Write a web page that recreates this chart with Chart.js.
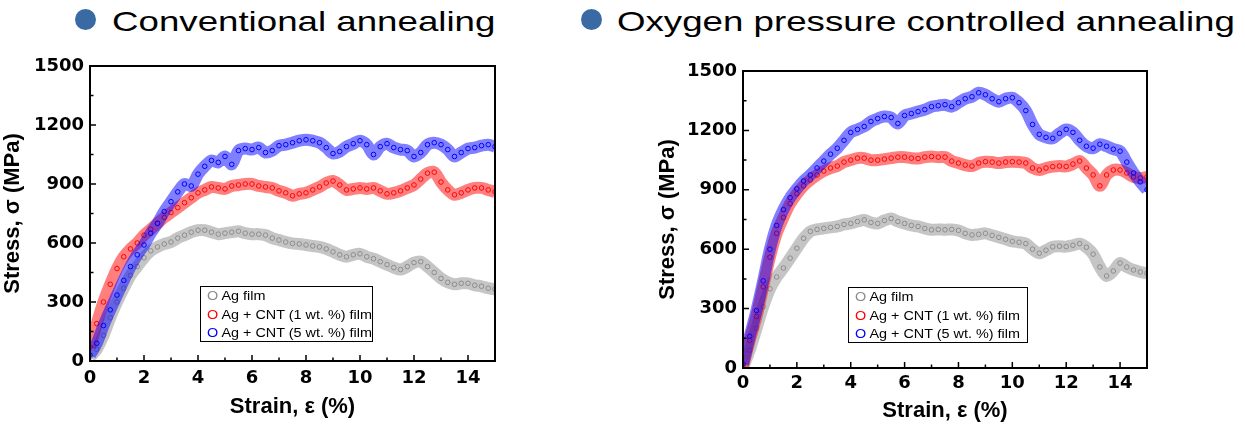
<!DOCTYPE html>
<html>
<head>
<meta charset="utf-8">
<script src="https://cdn.jsdelivr.net/npm/chart.js@4.4.0/dist/chart.umd.min.js"></script>
<style>
  body { margin: 0; background: #fff; }
  #page { position: relative; width: 1245px; height: 424px; overflow: hidden; font-family: Arial, "Liberation Sans", sans-serif; }
  .wrap { position: absolute; top: 0; }
  .dot { position: absolute; width: 21px; height: 21px; border-radius: 50%; background: #3a6aa3; }
  .ttl { position: absolute; top: 8px; font-size: 28px; line-height: 28px; white-space: nowrap; transform: scaleX(1.31); transform-origin: 0 0; color: #000; }
  .lgd { position: absolute; border: 1px solid #000; background: #fff; box-sizing: border-box; font-size: 12px; line-height: 18.5px; padding: 0 0 0 6px; }
  .lgd div { white-space: nowrap; transform: scaleX(1.2); transform-origin: 0 50%; }
</style>
</head>
<body>
<div id="page">
  <div class="dot" style="left:75px; top:9px"></div>
  <div class="ttl" style="left:112px">Conventional annealing</div>
  <div class="dot" style="left:581px; top:9px"></div>
  <div class="ttl" style="left:617px">Oxygen pressure controlled annealing</div>

  <div class="wrap" style="left:0; width:530px; height:424px"><canvas id="conv" width="530" height="424"></canvas></div>
  <div class="wrap" style="left:630px; width:615px; height:424px"><canvas id="oxy" width="615" height="424"></canvas></div>

  <div class="lgd" id="lgdConv" style="left:200px; top:286px; width:173px; height:56px"></div>
  <div class="lgd" id="lgdOxy" style="left:848px; top:287px; width:180px; height:56px"></div>
</div>
<script>
// strain (%) sampling grid
const strain = [0,0.25,0.5,0.75,1,1.25,1.5,1.75,2,2.25,2.5,2.75,3,3.25,3.5,3.75,4,4.25,4.5,4.75,
  5,5.25,5.5,5.75,6,6.25,6.5,6.75,7,7.25,7.5,7.75,8,8.25,8.5,8.75,9,9.25,9.5,9.75,
  10,10.25,10.5,10.75,11,11.25,11.5,11.75,12,12.25,12.5,12.75,13,13.25,13.5,13.75,14,14.25,14.5,14.75,15];

// conventional annealing, stress (MPa)
const convAg = [20,60,130,220,300,370,435,480,525,560,580,595,605,625,640,655,665,665,655,645,
  650,655,660,650,645,645,640,625,615,605,598,595,590,585,580,570,555,540,530,540,
  545,530,520,505,490,475,465,480,500,505,480,450,420,400,390,395,395,385,380,370,365];
const convCnt1 = [70,190,300,390,470,530,570,600,640,670,700,730,755,780,805,830,855,870,885,880,
  875,890,895,900,900,890,885,880,865,855,840,850,855,870,885,905,915,895,870,875,
  880,875,880,865,850,855,865,880,895,925,955,960,910,870,845,855,870,880,880,870,860];
const convCnt5 = [30,90,180,260,335,410,480,540,590,650,700,760,810,860,900,890,950,990,1020,1010,
  1040,1000,1070,1080,1075,1085,1060,1070,1095,1100,1110,1120,1125,1120,1110,1085,1055,1065,1090,1105,
  1120,1100,1050,1090,1105,1085,1075,1070,1040,1060,1100,1110,1100,1075,1040,1060,1080,1085,1095,1100,1090];

// oxygen pressure controlled annealing, stress (MPa)
const oxyAg = [0,90,200,310,400,460,505,555,605,655,690,700,705,710,715,725,730,740,748,735,
  730,745,755,740,730,720,715,705,698,700,698,700,695,680,672,675,680,670,660,650,
  640,635,628,600,580,595,612,615,613,620,628,610,575,510,465,490,530,510,495,485,478];
const oxyCnt1 = [10,140,260,410,560,680,760,830,880,920,950,975,995,1010,1020,1040,1050,1060,1060,1050,
  1050,1055,1060,1065,1065,1060,1058,1065,1068,1065,1065,1045,1035,1025,1020,1035,1042,1040,1035,1040,
  1042,1040,1035,1010,1000,1010,1017,1020,1018,1030,1045,1010,975,920,975,1000,1000,985,965,960,965];
const oxyCnt5 = [20,160,290,440,600,720,800,860,905,945,975,1010,1045,1080,1110,1150,1190,1205,1220,1245,
  1260,1270,1265,1235,1275,1285,1295,1305,1320,1325,1330,1320,1340,1360,1370,1390,1380,1360,1345,1360,
  1365,1340,1300,1230,1180,1165,1160,1185,1205,1190,1150,1120,1110,1130,1120,1105,1095,1040,985,940,900];

const names = ["Ag film", "Ag + CNT (1 wt. %) film", "Ag + CNT (5 wt. %) film"];
const colors = ["#8c8c8c", "#ff0000", "#0000ff"];
const bands = ["rgba(140,140,140,0.5)", "rgba(255,0,0,0.5)", "rgba(0,0,255,0.5)"];

// inward ticks + box frame
const frame = {
  id: "frame",
  afterDatasetsDraw(chart) {
    const { ctx, chartArea: a, scales: { x, y } } = chart;
    ctx.save();
    ctx.strokeStyle = "#000";
    ctx.lineWidth = 1.5;
    ctx.beginPath();
    for (let v = 1; v < 15; v++) {
      const px = x.getPixelForValue(v);
      ctx.moveTo(px, a.bottom);
      ctx.lineTo(px, a.bottom - (v % 2 ? 3.5 : 6));
    }
    for (let v = 150; v < 1500; v += 150) {
      const py = y.getPixelForValue(v);
      ctx.moveTo(a.left, py);
      ctx.lineTo(a.left + (v % 300 ? 3.5 : 6), py);
    }
    ctx.stroke();
    ctx.lineWidth = 2;
    ctx.strokeRect(a.left, a.top, a.right - a.left, a.bottom - a.top);
    ctx.restore();
  }
};

function makeChart(id, series, pad, xH, xPad, xTitlePad, yTitlePad) {
  const datasets = series.map((ys, i) => ({
    label: names[i],
    data: ys.map((v, k) => ({ x: strain[k], y: v })),
    showLine: true,
    borderColor: bands[i],
    borderWidth: 12,
    tension: 0.3,
    pointRadius: 2.3,
    pointBorderWidth: 1,
    pointBorderColor: colors[i],
    pointBackgroundColor: "rgba(255,255,255,0)"
  })).reverse();

  new Chart(document.getElementById(id), {
    type: "scatter",
    data: { datasets },
    options: {
      responsive: false,
      animation: false,
      layout: { padding: pad },
      plugins: { legend: { display: false }, tooltip: { enabled: false } },
      scales: {
        x: {
          type: "linear", min: 0, max: 15,
          border: { display: false },
          grid: { display: false, drawTicks: false },
          ticks: { stepSize: 2, includeBounds: false, padding: xPad, maxRotation: 0, color: "#000",
                   font: { family: "DejaVu Sans", weight: "bold", size: 18 } },
          title: { display: true, text: "Strain, ε (%)", color: "#000",
                   font: { family: "Liberation Sans", weight: "bold", size: 22 },
                   padding: { top: 0, bottom: xTitlePad } },
          afterFit(s) { s.height = xH; }
        },
        y: {
          type: "linear", min: 0, max: 1500,
          border: { display: false },
          grid: { display: false, drawTicks: false },
          ticks: { stepSize: 300, padding: 6, color: "#000", callback: v => String(v),
                   font: { family: "DejaVu Sans", weight: "bold", size: 18 } },
          title: { display: true, text: "Stress, σ (MPa)", color: "#000",
                   font: { family: "Liberation Sans", weight: "bold", size: 22 },
                   padding: { top: yTitlePad, bottom: 0 } },
          afterFit(s) { s.width = 90; }
        }
      }
    },
    plugins: [frame]
  });
}

makeChart("conv", [convAg, convCnt1, convCnt5], { left: 0, top: 66, right: 35, bottom: 0 }, 63, 7, 4, 0);
makeChart("oxy", [oxyAg, oxyCnt1, oxyCnt5], { left: 23, top: 71, right: 98, bottom: 0 }, 56, 5, 0, 2);

function fillLegend(id) {
  const box = document.getElementById(id);
  names.forEach((n, i) => {
    const row = document.createElement("div");
    const o = document.createElement("span");
    o.textContent = "O";
    o.style.color = colors[i];
    row.appendChild(o);
    row.appendChild(document.createTextNode(" " + n));
    box.appendChild(row);
  });
}
fillLegend("lgdConv");
fillLegend("lgdOxy");
</script>
</body>
</html>
